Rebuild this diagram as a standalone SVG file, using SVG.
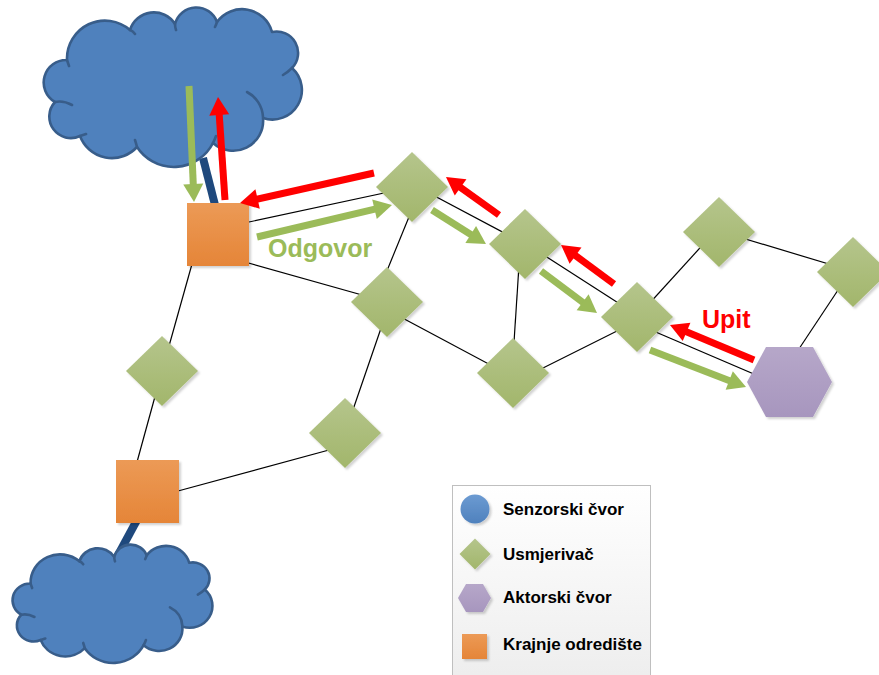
<svg xmlns="http://www.w3.org/2000/svg" xmlns:xlink="http://www.w3.org/1999/xlink" width="879" height="675" viewBox="0 0 879 675">
<style>
.ln{stroke:#000;stroke-width:1.2;fill:none}
.thick{stroke:#1F497D;stroke-width:8;fill:none}
.cl{fill:#4F81BD;stroke:#385D8A;stroke-width:2.6;stroke-linejoin:round}
.cli{fill:none;stroke:#385D8A;stroke-width:2.6;stroke-linecap:round}
.ra{stroke:#FF0000;stroke-width:7;fill:none;marker-end:url(#hr)}
.ga{stroke:#9BBB59;stroke-width:7;fill:none;marker-end:url(#hg)}
.dia{fill:url(#gD);filter:url(#sh)}
.sq{fill:url(#gO);filter:url(#sh)}
.hex{fill:url(#gH);filter:url(#sh)}
.lt{font-family:"Liberation Sans",Arial,sans-serif;font-weight:bold;font-size:17px;fill:#000}
.big{font-family:"Liberation Sans",Arial,sans-serif;font-weight:bold;font-size:25px}
</style>
<defs>
<linearGradient id="gD" x1="0" y1="0" x2="0" y2="1"><stop offset="0" stop-color="#B5C58C"/><stop offset="1" stop-color="#A2B66B"/></linearGradient>
<linearGradient id="gO" x1="0" y1="0" x2="0" y2="1"><stop offset="0" stop-color="#EC9A56"/><stop offset="1" stop-color="#E58538"/></linearGradient>
<linearGradient id="gH" x1="0" y1="0" x2="0" y2="1"><stop offset="0" stop-color="#B6A7C9"/><stop offset="1" stop-color="#A796BE"/></linearGradient>
<linearGradient id="gC" x1="0" y1="0" x2="0" y2="1"><stop offset="0" stop-color="#6C9BD2"/><stop offset="1" stop-color="#4F81BD"/></linearGradient>
<linearGradient id="gL" x1="0" y1="0" x2="0" y2="1"><stop offset="0" stop-color="#FFFFFF"/><stop offset="1" stop-color="#EDEDED"/></linearGradient>
<filter id="sh" x="-20%" y="-20%" width="150%" height="150%"><feDropShadow dx="2" dy="2" stdDeviation="1" flood-color="#000" flood-opacity="0.18"/></filter>
<marker id="hr" markerUnits="userSpaceOnUse" markerWidth="20" markerHeight="20" refX="8" refY="10" orient="auto" overflow="visible"><path d="M0,0 L18,10 L0,20 Z" fill="#FF0000"/></marker>
<marker id="hg" markerUnits="userSpaceOnUse" markerWidth="20" markerHeight="20" refX="8" refY="10" orient="auto" overflow="visible"><path d="M0,0 L18,10 L0,20 Z" fill="#9BBB59"/></marker>
<polygon id="diamond" points="0,-35 36,0 0,35 -36,0"/>
<g id="cloud">
<path class="cl" vector-effect="non-scaling-stroke" d="M67,60 A38,38 0 0 1 130,30 A25,25 0 0 1 175,24 A22,22 0 0 1 217,22 A31,31 0 0 1 272,32 A21.5,21.5 0 0 1 292,68 A29.5,29.5 0 0 1 263,118 A30,30 0 0 1 213,143 A44,44 0 0 1 137,147 A34,34 0 0 1 80,136 A21.5,21.5 0 0 1 55,102 A22.5,22.5 0 0 1 67,60 Z"/>
<path class="cli" vector-effect="non-scaling-stroke" d="M247,92 A30,30 0 0 1 263,117 M55,102 Q63,100 72,105 M67,60 Q68,63 69,66 M130,30 Q133,31 135,34 M292,68 Q288,72 283,75 M213,143 Q215,139 216,136 M137,147 Q136,143 135,140 M80,136 Q83,135 86,134 M217,22 Q216,25 215,27 M175,24 Q175,27 176,30"/>
</g>
</defs>
<rect width="879" height="675" fill="#FFFFFF"/>

<g id="links-thick">
<line class="thick" x1="203" y1="158" x2="215" y2="205"/>
<line class="thick" x1="137" y1="520" x2="117" y2="557"/>
</g>

<g id="cloud-top"><use xlink:href="#cloud"/></g>
<g id="cloud-bottom"><use xlink:href="#cloud" transform="matrix(0.7743 0 0 0.7421 -21.30 539.06)"/></g>

<g id="connectors">
<line class="ln" x1="249" y1="222" x2="412" y2="187"/>
<line class="ln" x1="245" y1="262" x2="387" y2="302"/>
<line class="ln" x1="192" y1="264" x2="162" y2="371"/>
<line class="ln" x1="162" y1="371" x2="137" y2="462"/>
<line class="ln" x1="178" y1="491" x2="340" y2="447"/>
<line class="ln" x1="345" y1="433" x2="390" y2="302"/>
<line class="ln" x1="420" y1="190" x2="375" y2="300"/>
<line class="ln" x1="395" y1="314" x2="513" y2="377"/>
<line class="ln" x1="412" y1="184" x2="525" y2="244"/>
<line class="ln" x1="520" y1="250" x2="512" y2="373"/>
<line class="ln" x1="525" y1="243" x2="637" y2="315"/>
<line class="ln" x1="513" y1="383" x2="637" y2="321"/>
<line class="ln" x1="637" y1="317" x2="719" y2="227"/>
<line class="ln" x1="719" y1="231" x2="852" y2="271"/>
<line class="ln" x1="850" y1="272" x2="777" y2="382"/>
<line class="ln" x1="637" y1="324" x2="789" y2="389"/>
</g>

<g id="S1"><rect class="sq" x="187" y="203" width="62" height="63"/></g>
<g id="S2"><rect class="sq" x="116" y="460" width="63" height="63"/></g>
<g id="D1"><use class="dia" xlink:href="#diamond" x="412" y="187"/></g>
<g id="D2"><use class="dia" xlink:href="#diamond" x="387" y="302"/></g>
<g id="D3"><use class="dia" xlink:href="#diamond" x="525" y="244"/></g>
<g id="D4"><use class="dia" xlink:href="#diamond" x="637" y="317"/></g>
<g id="D5"><use class="dia" xlink:href="#diamond" x="513" y="373"/></g>
<g id="D6"><use class="dia" xlink:href="#diamond" x="719" y="232"/></g>
<g id="D7"><use class="dia" xlink:href="#diamond" x="853" y="272"/></g>
<g id="D8"><use class="dia" xlink:href="#diamond" x="162" y="371"/></g>
<g id="D9"><use class="dia" xlink:href="#diamond" x="345" y="433"/></g>
<g id="H"><polygon class="hex" points="747,382 766,347 813,347 832,382 813,417 766,417"/></g>

<g id="arrows">
<line class="ga" x1="189" y1="86" x2="193.6" y2="192"/>
<line class="ra" x1="225" y1="200" x2="218.7" y2="107"/>
<line class="ra" x1="374" y1="173" x2="249.8" y2="200.8"/>
<line class="ga" x1="257" y1="237" x2="382.3" y2="207.3"/>
<line class="ra" x1="499" y1="215" x2="454.1" y2="182.8"/>
<line class="ga" x1="432" y1="210" x2="477.5" y2="238.7"/>
<line class="ra" x1="614" y1="284" x2="569.1" y2="250.9"/>
<line class="ga" x1="541" y1="271" x2="589" y2="307"/>
<line class="ra" x1="754" y1="360" x2="679.2" y2="328.8"/>
<line class="ga" x1="650" y1="350" x2="736.7" y2="383.4"/>
</g>

<g id="labels">
<text class="big" x="268" y="257" fill="#9BBB59">Odgovor</text>
<text class="big" x="702" y="328" fill="#FF0000">Upit</text>
</g>

<g id="legend">
<rect x="452.5" y="485.5" width="198" height="200" fill="url(#gL)" stroke="#BFBFBF" stroke-width="1"/>
<circle cx="475" cy="509" r="14.5" fill="url(#gC)" filter="url(#sh)"/>
<text class="lt" x="503" y="515">Senzorski čvor</text>
<polygon points="475,538.5 490.5,554 475,569.5 459.5,554" fill="url(#gD)" filter="url(#sh)"/>
<text class="lt" x="503" y="560">Usmjerivač</text>
<polygon points="458,598 466,584 483,584 491,598 483,612 466,612" fill="url(#gH)" filter="url(#sh)"/>
<text class="lt" x="503" y="603">Aktorski čvor</text>
<rect x="462" y="634" width="25" height="25" fill="url(#gO)" filter="url(#sh)"/>
<text class="lt" x="503" y="650">Krajnje odredište</text>
</g>
</svg>
